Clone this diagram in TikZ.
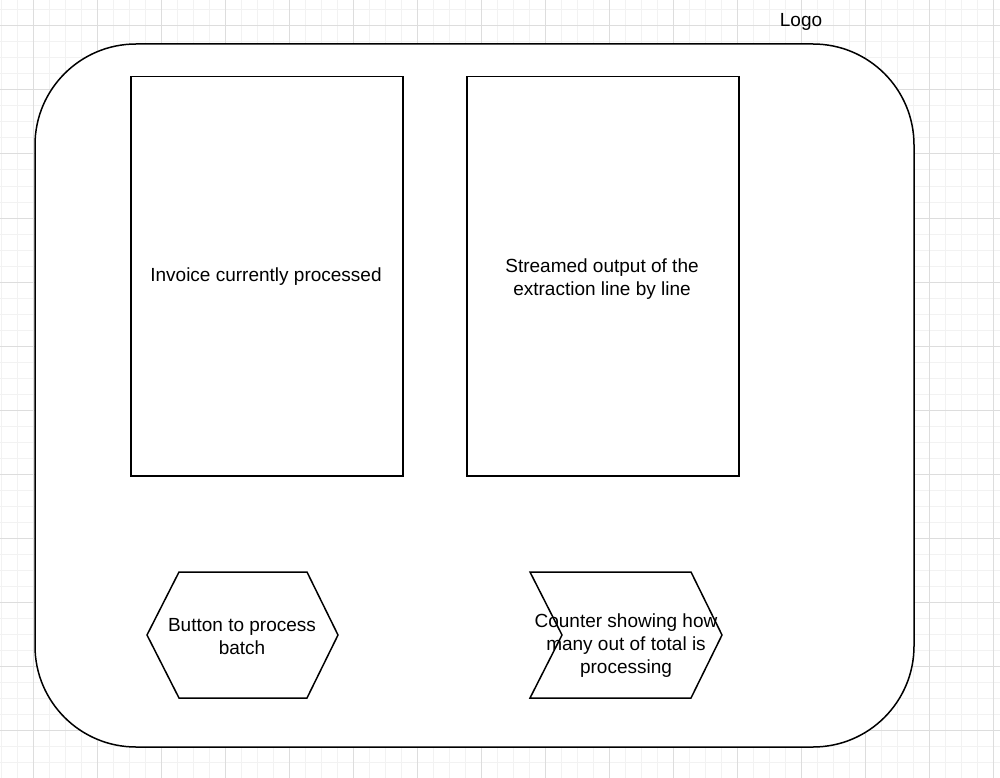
\documentclass[tikz,border=0pt]{standalone}
\usepackage{fontspec}
\setmainfont{Liberation Sans}
\definecolor{gridminor}{HTML}{F2F2F2}
\definecolor{gridmajor}{HTML}{DDDDDD}
\begin{document}
\begin{tikzpicture}[x=1pt,y=-1pt,
  outline/.style={draw,line width=1.5pt,line join=miter},
  panel/.style={outline,fill=white,anchor=north west,inner sep=0pt,
                minimum width=272pt,minimum height=399pt},
  caption/.style={align=center,font=\fontsize{19}{23}\selectfont}]
  \useasboundingbox (0,0) rectangle (1000,778);
  % Background grid
  \foreach \x in {1,17,...,1000}{
    \draw[gridminor,line width=1pt] (\x,0) -- (\x,778);
  }
  \foreach \y in {10,26,...,778}{
    \draw[gridminor,line width=1pt] (0,\y) -- (1000,\y);
  }
  \foreach \x in {33,97,...,1000}{
    \draw[gridmajor,line width=1pt] (\x,0) -- (\x,778);
  }
  \foreach \y in {26,90,...,778}{
    \draw[gridmajor,line width=1pt] (0,\y) -- (1000,\y);
  }
  % Screen frame
  \draw[outline,fill=white,rounded corners=101pt] (35,44) rectangle (914,747);
  \node[caption] (logo) at (801,22) {Logo};
  % Panels
  \node[panel] (invoice) at (130,76) {};
  \node[panel] (stream) at (466,76) {};
  \node[caption] (invoicetext) at (266,277) {Invoice currently processed};
  \node[caption] (streamtext) at (602,279) {Streamed output of the\\extraction line by line};
  % Button
  \coordinate (btnw) at (147,635);
  \coordinate (btne) at (338,635);
  \draw[outline] (btnw) -- (179,572) -- (307,572) -- (btne) -- (307,698) -- (179,698) -- cycle;
  \node[caption] (button) at (242,637) {Button to process\\batch};
  % Counter
  \coordinate (cntnotch) at (562,635);
  \coordinate (cnttip) at (722,635);
  \draw[outline] (530,572) -- (691,572) -- (cnttip) -- (691,698) -- (530,698) -- (cntnotch) -- cycle;
  \node[caption] (counter) at (626,646) {Counter showing how\\many out of total is\\processing};
\end{tikzpicture}
\end{document}
